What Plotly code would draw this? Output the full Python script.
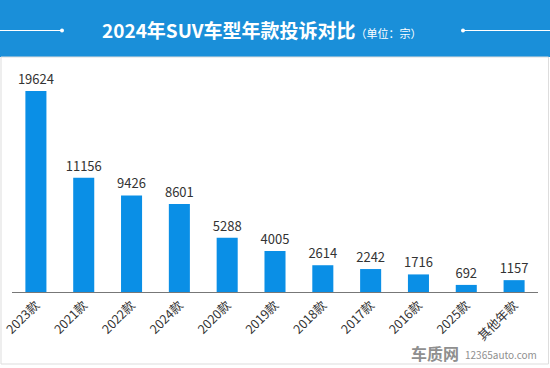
import plotly.graph_objects as go

categories = ["2023款", "2021款", "2022款", "2024款", "2020款", "2019款", "2018款", "2017款", "2016款", "2025款", "其他年款"]
complaints = [19624, 11156, 9426, 8601, 5288, 4005, 2614, 2242, 1716, 692, 1157]

W, H = 550, 368
L, R, T, B = 12, 12, 60, 76
PW, PH = W - L - R, H - T - B

def px(X):
    return (X - L) / PW

def py(Y):
    return (H - B - Y) / PH

FONT = "Noto Sans CJK SC, Microsoft YaHei, sans-serif"

fig = go.Figure(go.Bar(
    x=categories, y=complaints,
    marker=dict(color="#0a8fe6", line=dict(width=0)),
    text=[str(v) for v in complaints], textposition="outside",
    textfont=dict(size=13, color="#333333", family=FONT),
    constraintext="none",
    cliponaxis=False, width=0.44,
))

shapes = [
    dict(type="rect", xref="paper", yref="paper", x0=px(0), x1=px(W), y0=py(57), y1=py(0),
         fillcolor="#1a8fd9", line=dict(width=0), layer="below"),
    dict(type="line", xref="paper", yref="paper", x0=px(0), x1=px(62), y0=py(30.5), y1=py(30.5),
         line=dict(color="white", width=1)),
    dict(type="line", xref="paper", yref="paper", x0=px(463), x1=px(W), y0=py(30.5), y1=py(30.5),
         line=dict(color="white", width=1)),
    dict(type="circle", xref="paper", yref="paper", x0=px(60), x1=px(64), y0=py(32.5), y1=py(28.5),
         fillcolor="white", line=dict(width=0)),
    dict(type="circle", xref="paper", yref="paper", x0=px(461), x1=px(465), y0=py(32.5), y1=py(28.5),
         fillcolor="white", line=dict(width=0)),
    dict(type="rect", xref="paper", yref="paper", x0=px(1), x1=px(W - 1.5), y0=py(H - 4), y1=py(57),
         fillcolor="rgba(0,0,0,0)", line=dict(color="#dddddd", width=1), layer="below"),
]

annotations = [
    dict(xref="paper", yref="paper", x=px(262), y=py(29.5), xanchor="center", yanchor="middle",
         showarrow=False,
         text="<b>2024年SUV车型年款投诉对比</b><span style='font-size:11px'>（单位：宗）</span>",
         font=dict(size=19, color="white", family=FONT)),
    dict(xref="paper", yref="paper", x=px(461), y=py(353), xanchor="right", yanchor="middle",
         showarrow=False, text="<b>车质网</b>",
         font=dict(size=16, color="#8f8f8f", family=FONT)),
    dict(xref="paper", yref="paper", x=px(463), y=py(354), xanchor="left", yanchor="middle",
         showarrow=False, text="12365auto.com",
         font=dict(size=10, color="#8f8f8f", family=FONT)),
]

fig.update_layout(
    width=W, height=H,
    margin=dict(l=L, r=R, t=T, b=B, autoexpand=False),
    paper_bgcolor="white", plot_bgcolor="white",
    showlegend=False,
    shapes=shapes, annotations=annotations,
    xaxis=dict(tickangle=-45, tickfont=dict(size=12.5, color="#333333", family=FONT),
               showline=True, linecolor="#777777", linewidth=1, ticks="",
               showgrid=False, fixedrange=True, automargin=False),
    yaxis=dict(range=[0, 22650], visible=False, showgrid=False, fixedrange=True,
               automargin=False),
    bargap=0.56,
)

fig.write_html("out.html", config={"displayModeBar": False},
               post_script="document.body.style.margin='0';document.body.style.overflow='hidden';")
